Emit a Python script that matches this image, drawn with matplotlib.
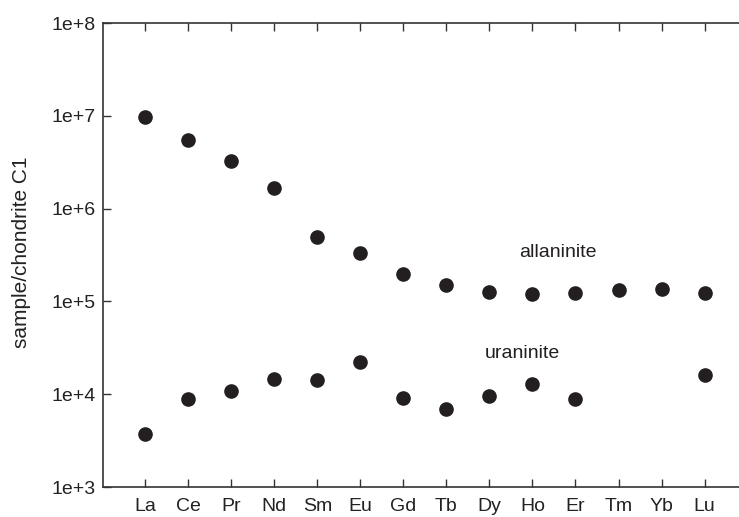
import numpy as np
import matplotlib.pyplot as plt

plt.rcParams['font.family'] = ['Liberation Sans', 'DejaVu Sans']

elements = ['La', 'Ce', 'Pr', 'Nd', 'Sm', 'Eu', 'Gd', 'Tb', 'Dy', 'Ho', 'Er', 'Tm', 'Yb', 'Lu']
allaninite = [9.7e6, 5.5e6, 3.25e6, 1.67e6, 4.9e5, 3.3e5, 1.95e5, 1.5e5, 1.26e5, 1.2e5, 1.23e5, 1.32e5, 1.35e5, 1.23e5]
uraninite_el = ['La', 'Ce', 'Pr', 'Nd', 'Sm', 'Eu', 'Gd', 'Tb', 'Dy', 'Ho', 'Er', 'Lu']
uraninite = [3.7e3, 8.9e3, 1.08e4, 1.46e4, 1.43e4, 2.25e4, 9.2e3, 6.9e3, 9.5e3, 1.29e4, 8.8e3, 1.6e4]

xpos = {el: i + 1 for i, el in enumerate(elements)}
col = '#231f20'

fig = plt.figure(figsize=(7.39, 5.17), dpi=100)
ax = fig.add_axes([103 / 739, 1 - 487 / 517, 1 - 103 / 739, (487 - 23) / 517])

ax.plot([xpos[e] for e in elements], allaninite, 'o', color=col, ms=9.5, clip_on=False)
ax.plot([xpos[e] for e in uraninite_el], uraninite, 'o', color=col, ms=9.5, clip_on=False)

ax.set_yscale('log')
ax.set_ylim(1e3, 1e8)
ax.set_xlim(0.02, 14.8)
ax.set_yticks([1e3, 1e4, 1e5, 1e6, 1e7, 1e8])
ax.set_yticklabels(['1e+3', '1e+4', '1e+5', '1e+6', '1e+7', '1e+8'])
ax.yaxis.set_minor_locator(plt.NullLocator())
ax.set_xticks(range(1, 15))
ax.set_xticklabels(elements)

ax.spines['right'].set_visible(False)
for s in ['left', 'bottom', 'top']:
    ax.spines[s].set_color('#333333')
    ax.spines[s].set_linewidth(1.2)
ax.tick_params(axis='x', direction='in', top=True, length=6, width=1, color='#333333',
               labelsize=14, pad=8, labelcolor='#222222')
ax.tick_params(axis='y', direction='in', length=6, width=1, color='#333333',
               labelsize=14, pad=5, labelcolor='#222222')

ax.set_ylabel('sample/chondrite C1', fontsize=15, color='#222222')
ax.yaxis.set_label_coords(-0.113, 0.505)

ax.text(10.58, 3.4e5, 'allaninite', fontsize=14, ha='center', va='center', color=col)
ax.text(9.77, 2.75e4, 'uraninite', fontsize=14, ha='center', va='center', color=col)

fig.savefig('out.png', dpi=100)
